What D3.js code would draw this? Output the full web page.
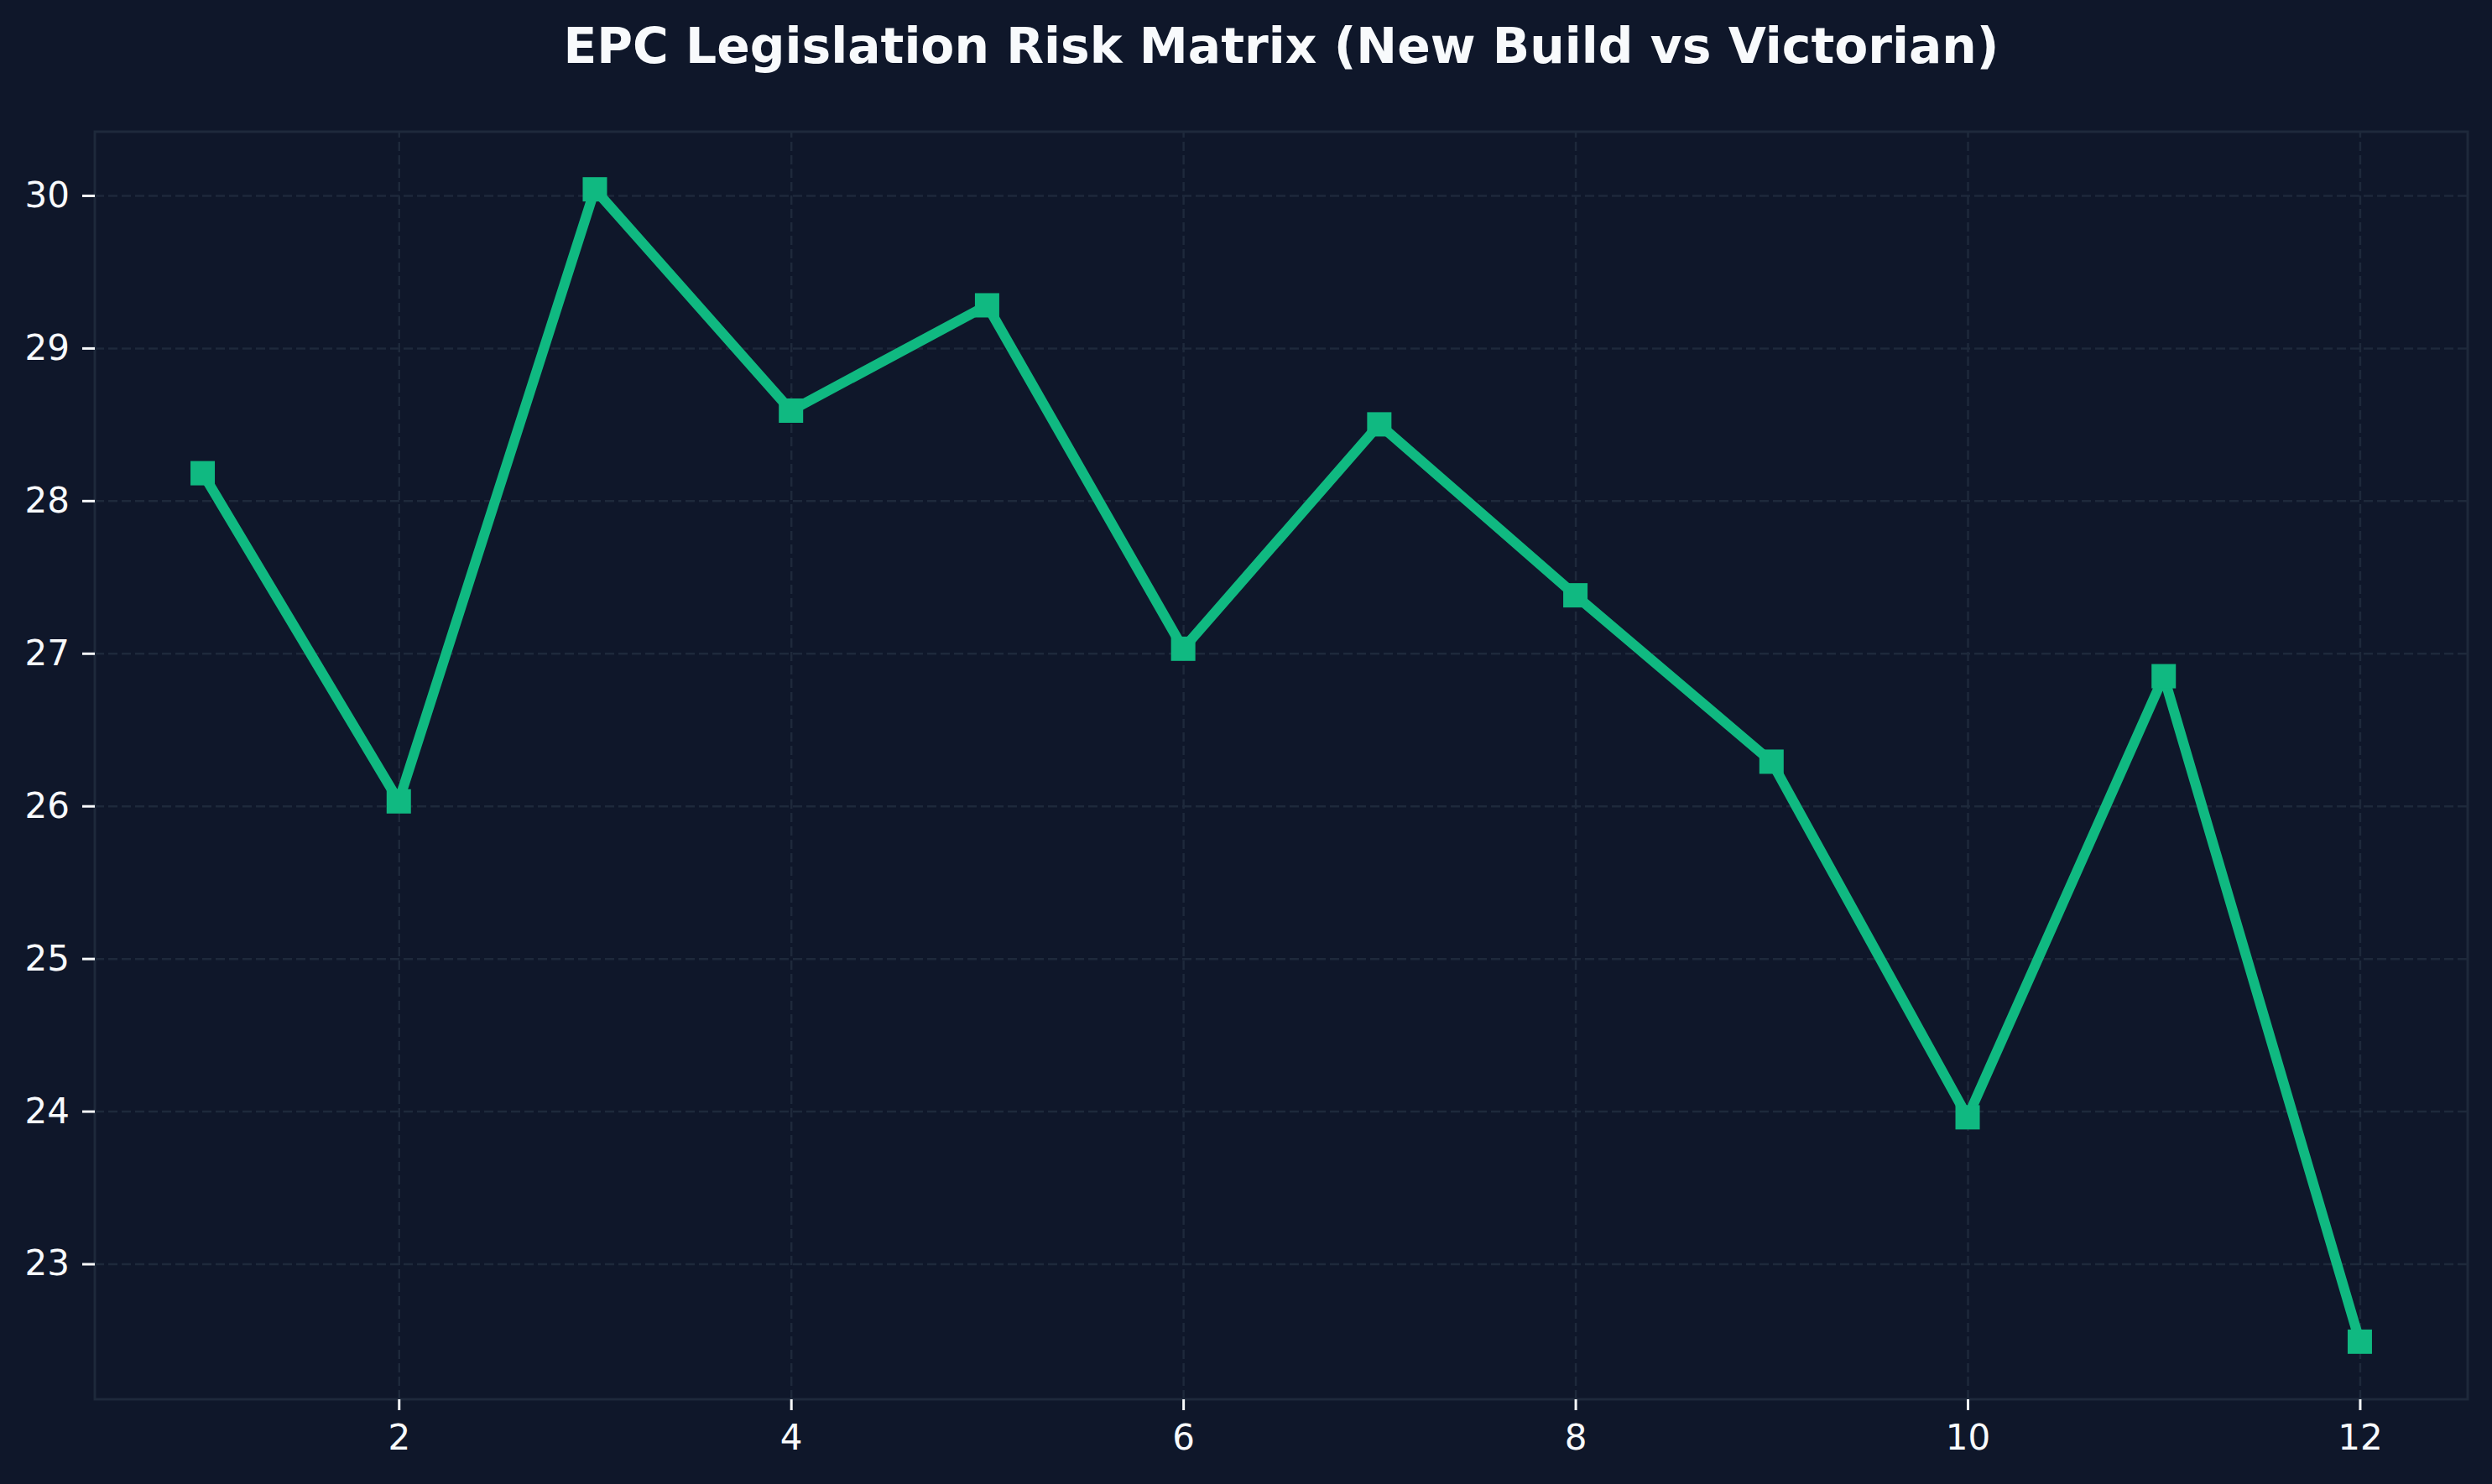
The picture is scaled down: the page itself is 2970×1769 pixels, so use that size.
<!doctype html>
<html>
<head>
<meta charset="utf-8">
<title>EPC Legislation Risk Matrix</title>
<script src="https://d3js.org/d3.v7.min.js"></script>
<style>
  html, body { margin: 0; padding: 0; background: #0f172a; }
  text { font-family: 'DejaVu Sans', sans-serif; }
  .tick text { fill: #f8fafc; font-size: 42px; }
  .tick line { stroke: #f8fafc; stroke-width: 3px; }
  .grid line { stroke: #1e293b; stroke-width: 2.5px; stroke-dasharray: 11 5; }
  .title { fill: #f8fafc; font-size: 58.3px; font-weight: bold; text-anchor: middle; }
</style>
</head>
<body>
<svg id="chart" width="2970" height="1769"></svg>
<script>
  // values
  var periods = [1, 2, 3, 4, 5, 6, 7, 8, 9, 10, 11, 12];
  var risk = [28.18, 26.03, 30.04, 28.59, 29.28, 27.03, 28.50, 27.38, 26.29, 23.96, 26.85, 22.49];
  var xTicks = [2, 4, 6, 8, 10, 12];
  var yTicks = [23, 24, 25, 26, 27, 28, 29, 30];
  var title = "EPC Legislation Risk Matrix (New Build vs Victorian)";

  var W = 2970, H = 1769;
  var margin = {left: 113, right: W - 2941, top: 157, bottom: H - 1668};
  var w = W - margin.left - margin.right,
      h = H - margin.top - margin.bottom;

  var data = periods.map((p, i) => ({x: p, y: risk[i]}));

  // matplotlib style 5% padding
  var xExt = d3.extent(periods), yExt = d3.extent(risk);
  var xPad = (xExt[1] - xExt[0]) * 0.05, yPad = (yExt[1] - yExt[0]) * 0.05;

  var x = d3.scaleLinear().domain([xExt[0] - xPad, xExt[1] + xPad]).range([0, w]);
  var y = d3.scaleLinear().domain([yExt[0] - yPad, yExt[1] + yPad]).range([h, 0]);

  var svg = d3.select("#chart");
  svg.append("rect").attr("width", W).attr("height", H).attr("fill", "#0f172a");

  var g = svg.append("g").attr("transform", "translate(" + margin.left + "," + margin.top + ")");

  // grid
  g.append("g").attr("class", "grid")
    .attr("transform", "translate(0," + h + ")")
    .call(d3.axisBottom(x).tickValues(xTicks).tickSize(-h).tickFormat(""))
    .call(a => a.select(".domain").remove());
  g.append("g").attr("class", "grid")
    .call(d3.axisLeft(y).tickValues(yTicks).tickSize(-w).tickFormat(""))
    .call(a => a.select(".domain").remove());

  // frame
  g.append("rect")
    .attr("width", w).attr("height", h)
    .attr("fill", "none").attr("stroke", "#1e293b").attr("stroke-width", 3);

  // axes
  g.append("g")
    .attr("transform", "translate(0," + h + ")")
    .call(d3.axisBottom(x).tickValues(xTicks).tickSize(13).tickPadding(17).tickFormat(d3.format("d")))
    .call(a => a.select(".domain").remove());
  g.append("g")
    .call(d3.axisLeft(y).tickValues(yTicks).tickSize(15).tickPadding(15).tickFormat(d3.format("d")))
    .call(a => a.select(".domain").remove());

  // line
  var line = d3.line().x(d => x(d.x)).y(d => y(d.y));
  g.append("path")
    .datum(data)
    .attr("d", line)
    .attr("fill", "none")
    .attr("stroke", "#10b981")
    .attr("stroke-width", 12)
    .attr("stroke-linejoin", "round");

  var ms = 29;
  g.selectAll("rect.marker")
    .data(data)
    .enter().append("rect")
    .attr("class", "marker")
    .attr("x", d => x(d.x) - ms / 2)
    .attr("y", d => y(d.y) - ms / 2)
    .attr("width", ms).attr("height", ms)
    .attr("fill", "#10b981");

  svg.append("text")
    .attr("class", "title")
    .attr("x", margin.left + w / 2)
    .attr("y", 75)
    .text(title);
</script>
</body>
</html>
